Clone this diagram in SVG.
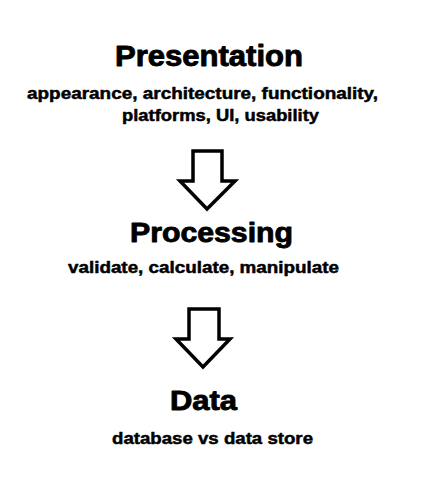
<svg xmlns="http://www.w3.org/2000/svg" width="444" height="500" viewBox="0 0 444 500">
<style>
.t{font-family:"Liberation Sans",Arial,sans-serif;font-weight:bold;fill:#000;stroke:#000;stroke-width:0.9;stroke-linejoin:round}
.s{font-family:"Liberation Sans",Arial,sans-serif;font-weight:bold;fill:#000;stroke:#000;stroke-width:0.5;stroke-linejoin:round}
.arrow{fill:#fff;stroke:#000;stroke-width:3.5;stroke-linejoin:miter}
</style>
<rect width="444" height="500" fill="#fff"/>
<g id="presentation">
<text class="t" x="115" y="66" font-size="29" textLength="188" lengthAdjust="spacingAndGlyphs">Presentation</text>
<text class="s" x="27" y="99" font-size="17" textLength="351" lengthAdjust="spacingAndGlyphs">appearance, architecture, functionality,</text>
<text class="s" x="122" y="121" font-size="17" textLength="197" lengthAdjust="spacingAndGlyphs">platforms, UI, usability</text>
</g>
<g id="processing">
<text class="t" x="130" y="242" font-size="28" textLength="163" lengthAdjust="spacingAndGlyphs">Processing</text>
<text class="s" x="68" y="273" font-size="17" textLength="271" lengthAdjust="spacingAndGlyphs">validate, calculate, manipulate</text>
</g>
<g id="data">
<text class="t" x="170" y="410" font-size="27" textLength="67" lengthAdjust="spacingAndGlyphs">Data</text>
<text class="s" x="112" y="444" font-size="17" textLength="201" lengthAdjust="spacingAndGlyphs">database vs data store</text>
</g>
<g id="connectors">
<path class="arrow" d="M193,151 L222,151 L222,181 L235,181 L207,209 L180,181 L193,181 Z"/>
<path class="arrow" d="M189,309 L219,309 L219,339 L230,339 L203,367 L176,339 L189,339 Z"/>
</g>
</svg>
